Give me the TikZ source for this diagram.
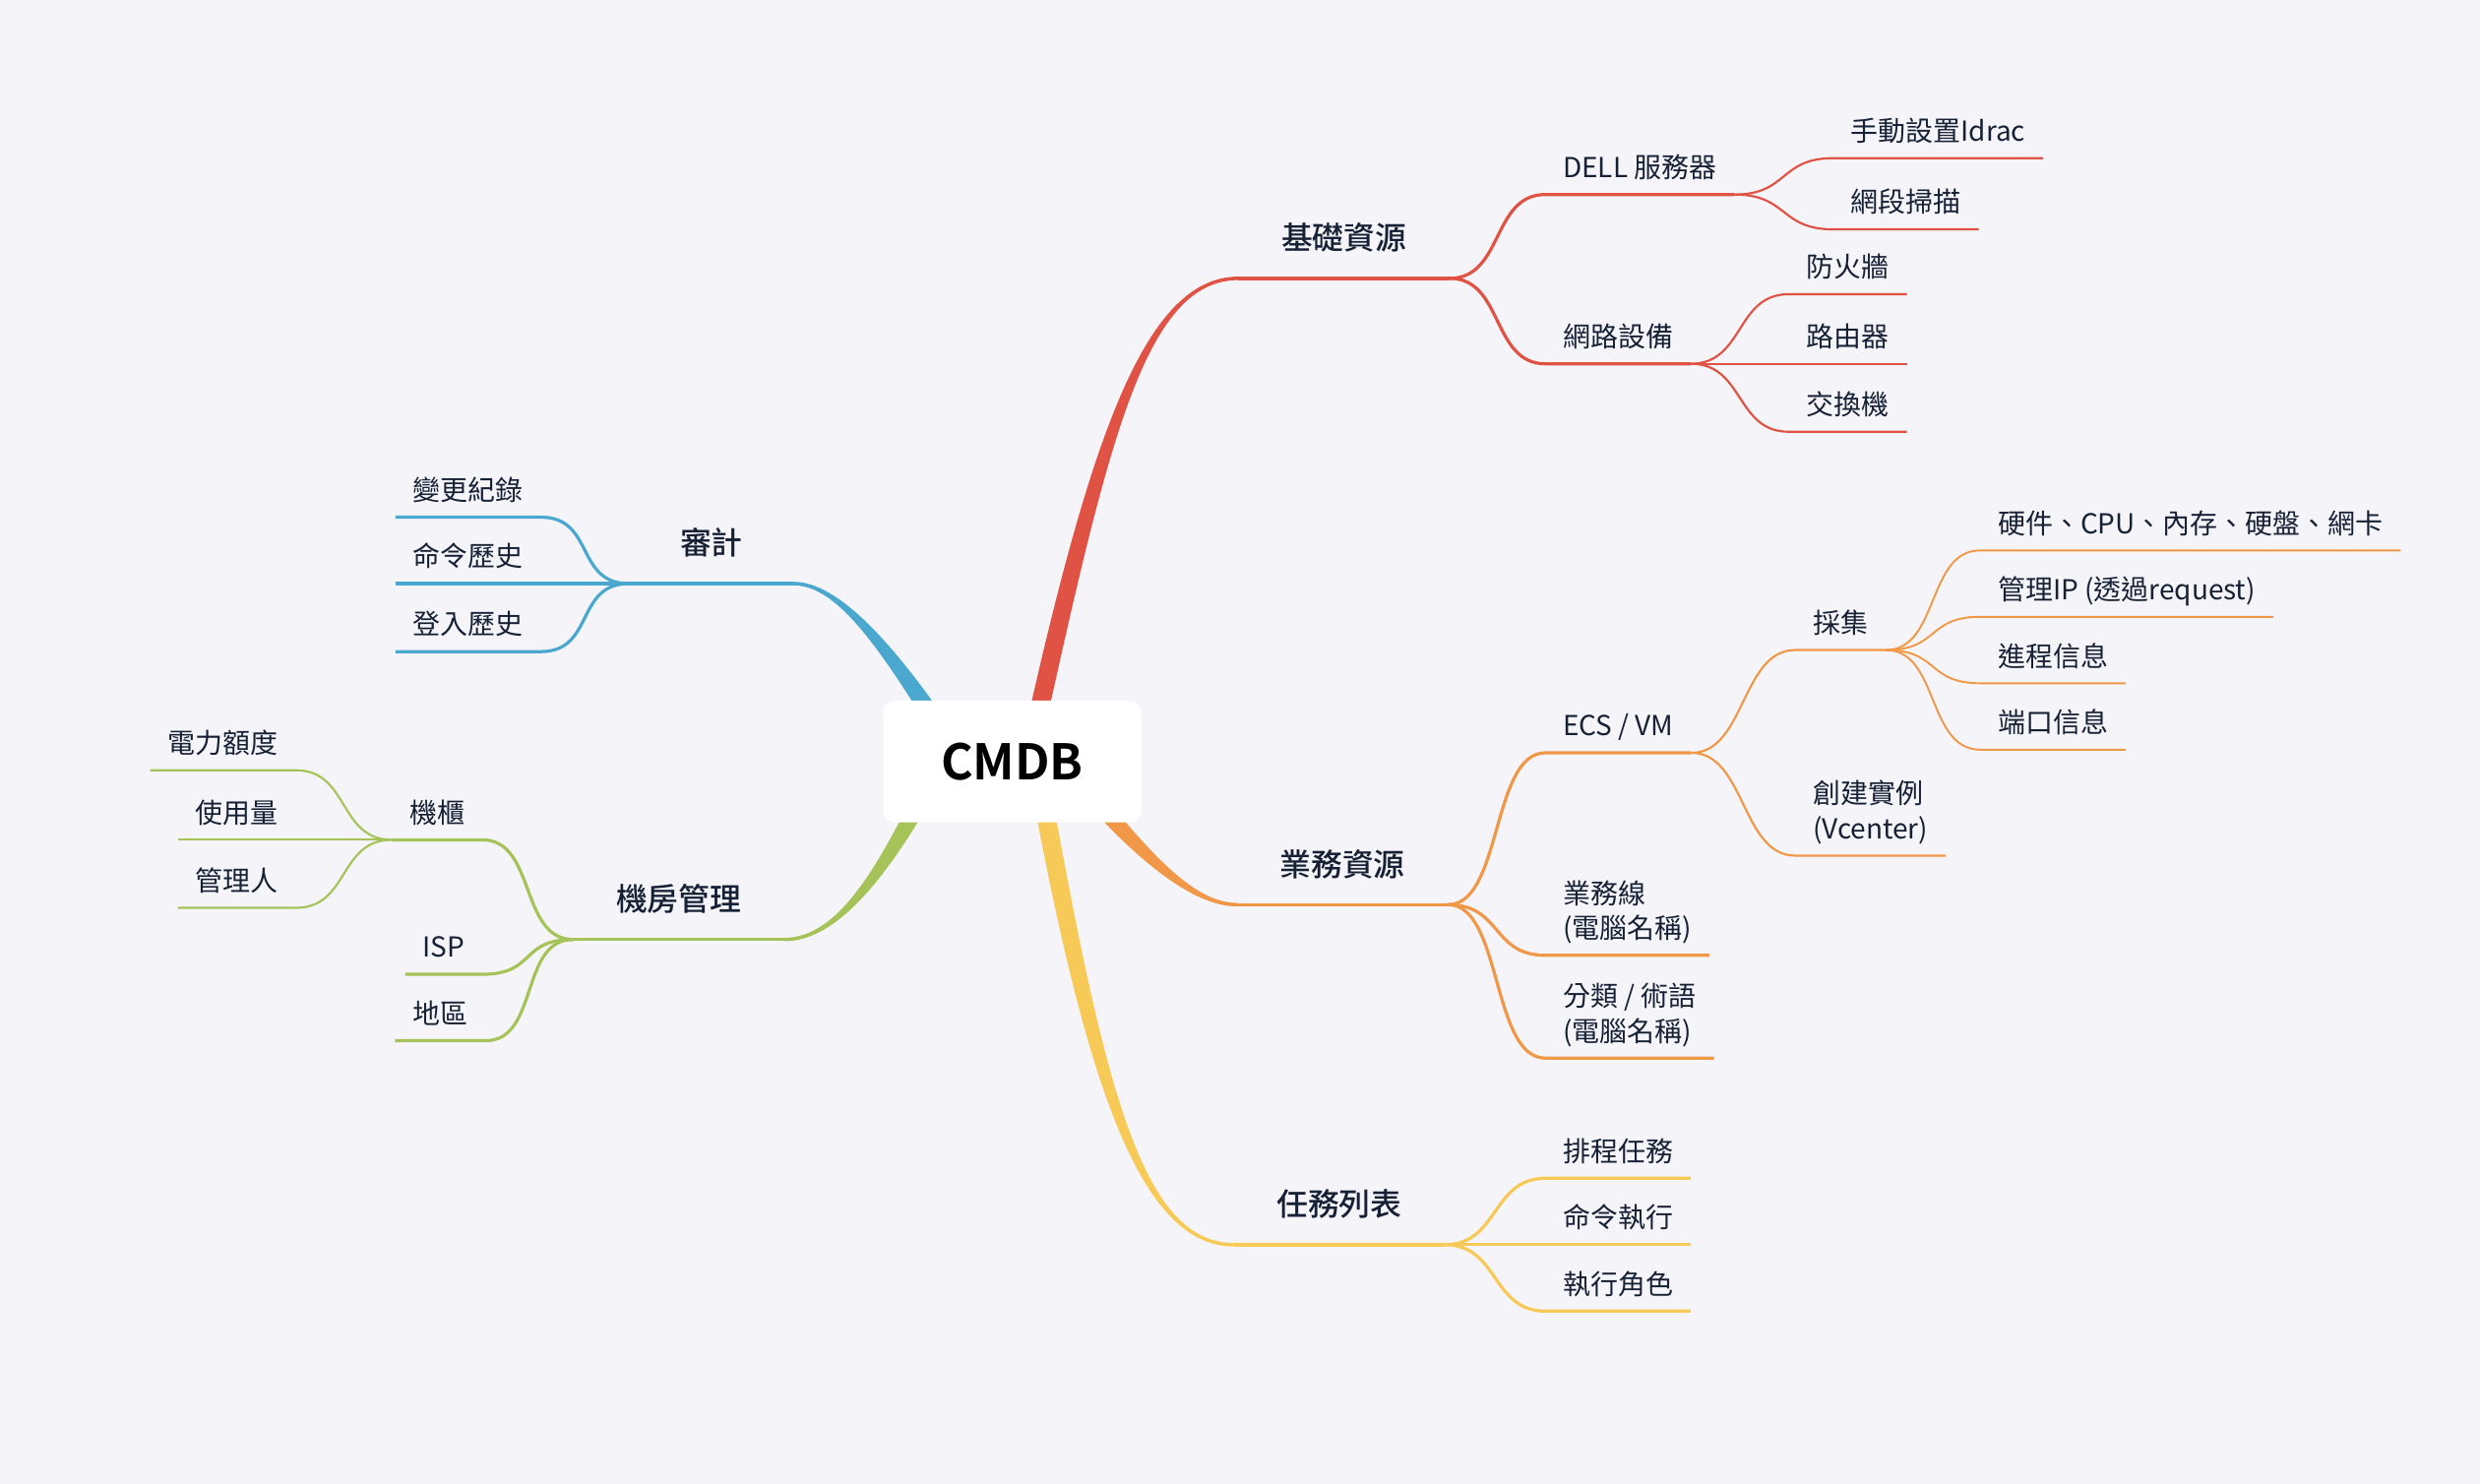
\documentclass[tikz,border=0pt]{standalone}
\usepackage{fontspec}
\setmainfont{Noto Sans CJK TC}[BoldFont={Noto Sans CJK TC Medium}]
\newfontfamily\rootfont{Noto Sans CJK TC Bold}
\usetikzlibrary{calc}

\definecolor{bg}{HTML}{F5F5F9}
\definecolor{ink}{HTML}{172135}
\definecolor{cRed}{HTML}{E05243}
\definecolor{cBlue}{HTML}{4AA8CE}
\definecolor{cGreen}{HTML}{A6C35A}
\definecolor{cOrange}{HTML}{F09848}
\definecolor{cYellow}{HTML}{F7C957}

% tapered main branch: colour, start, control 1, control 2, end
\newcommand{\trunk}[5]{%
  \fill[#1] ($(#2)!6pt!90:(#3)$) .. controls ($(#3)!6pt!-90:(#2)$) and ($(#4)!1.1pt!90:(#5)$) .. ($(#5)!1.1pt!-90:(#4)$)
    -- ($(#5)!1.1pt!90:(#4)$) .. controls ($(#4)!1.1pt!-90:(#5)$) and ($(#3)!6pt!90:(#2)$) .. ($(#2)!6pt!-90:(#3)$) -- cycle;}

\begin{document}
\begin{tikzpicture}[
  x=1pt, y=-1pt,
  topic/.style={font=\fontsize{17.4}{22}\selectfont, text=ink, inner xsep=11pt, inner ysep=6pt, text depth=4.5pt, align=left},
  rtopic/.style={topic, anchor=south west},
  ltopic/.style={topic, anchor=south east},
  maintopic/.style={font=\bfseries\fontsize{19.8}{24}\selectfont, text=ink, inner xsep=27pt, inner ysep=13.5pt, text depth=4.5pt, minimum width=104pt},
  root/.style={fill=white, rounded corners=7.5pt, minimum width=163pt, minimum height=77pt, font=\rootfont\fontsize{31}{38}\selectfont, text=black},
  lvl1/.style={line width=2.2pt},
  lvl2/.style={line width=2pt},
  lvl3/.style={line width=1.35pt},
  lvl4/.style={line width=1.2pt}
]

\useasboundingbox (0,0) rectangle (1568,938);
\fill[bg] (0,0) rectangle (1568,938);

% Main topics
\node[maintopic, anchor=south west] (infra) at (783,176) {基礎資源};
\node[maintopic, anchor=south west] (biz) at (782,572) {業務資源};
\node[maintopic, anchor=south west] (task) at (780,787) {任務列表};
\node[maintopic, anchor=south east] (audit) at (502,369) {審計};
\node[maintopic, anchor=south east] (room) at (496,594) {機房管理};

% Trunks from the centre
\coordinate (r0) at (650,481); \coordinate (r1) at (694,281); \coordinate (r2) at (723,176);
\coordinate (o0) at (672,481); \coordinate (o1) at (712,530); \coordinate (o2) at (750,572);
\coordinate (y0) at (655,481); \coordinate (y1) at (691,681); \coordinate (y2) at (720,787);
\coordinate (b0) at (608,481); \coordinate (b1) at (572,426); \coordinate (b2) at (535,369);
\coordinate (g0) at (596,481); \coordinate (g1) at (570,527); \coordinate (g2) at (538,594);
\trunk{cRed}{r0}{r1}{r2}{infra.south west}
\trunk{cOrange}{o0}{o1}{o2}{biz.south west}
\trunk{cYellow}{y0}{y1}{y2}{task.south west}
\trunk{cBlue}{b0}{b1}{b2}{audit.south east}
\trunk{cGreen}{g0}{g1}{g2}{room.south east}
\draw[lvl1, cRed] (infra.south west) -- (infra.south east);
\draw[lvl1, cOrange] (biz.south west) -- (biz.south east);
\draw[lvl1, cYellow] (task.south west) -- (task.south east);
\draw[lvl1, cBlue] (audit.south east) -- (audit.south west);
\draw[lvl1, cGreen] (room.south east) -- (room.south west);

% Infrastructure
\node[rtopic] (dell) at (977,123) {DELL 服務器};
\node[rtopic] (net) at (977,230) {網路設備};
\node[rtopic] (idrac) at (1159,100) {手動設置Idrac};
\node[rtopic] (scan) at (1159,145) {網段掃描};
\node[rtopic] (fw) at (1131,186) {防火牆};
\node[rtopic] (router) at (1131,230) {路由器};
\node[rtopic] (switch) at (1131,273) {交換機};

% Business
\node[rtopic] (ecs) at (977,476) {ECS / VM};
\node[rtopic] (bizline) at (977,604) {業務線\\(電腦名稱)};
\node[rtopic] (term) at (977,669) {分類 / 術語\\(電腦名稱)};
\node[rtopic] (collect) at (1135,411) {採集};
\node[rtopic] (vcenter) at (1135,541) {創建實例\\(Vcenter)};
\node[rtopic] (hw) at (1252,348) {硬件、CPU、內存、硬盤、網卡};
\node[rtopic] (mgmtip) at (1252,390) {管理IP (透過request)};
\node[rtopic] (proc) at (1252,432) {進程信息};
\node[rtopic] (port) at (1252,474) {端口信息};

% Tasks
\node[rtopic] (sched) at (977,745) {排程任務};
\node[rtopic] (cmdexec) at (977,787) {命令執行};
\node[rtopic] (role) at (977,829) {執行角色};

% Audit
\node[ltopic] (changelog) at (342,327) {變更紀錄};
\node[ltopic] (cmdhist) at (342,369) {命令歷史};
\node[ltopic] (login) at (342,412) {登入歷史};

% Machine room
\node[ltopic] (rack) at (305,531) {機櫃};
\node[ltopic] (isp) at (305,616) {ISP};
\node[ltopic] (region) at (307,658) {地區};
\node[ltopic] (power) at (187,487) {電力額度};
\node[ltopic] (usage) at (187,531) {使用量};
\node[ltopic] (owner) at (187,574) {管理人};

% Links, right side
\foreach \p/\c/\w/\col in {infra/dell/lvl2/cRed, infra/net/lvl2/cRed,
    dell/idrac/lvl3/cRed, dell/scan/lvl3/cRed, net/fw/lvl3/cRed, net/router/lvl3/cRed, net/switch/lvl3/cRed,
    biz/ecs/lvl2/cOrange, biz/bizline/lvl2/cOrange, biz/term/lvl2/cOrange,
    ecs/collect/lvl3/cOrange, ecs/vcenter/lvl3/cOrange,
    collect/hw/lvl4/cOrange, collect/mgmtip/lvl4/cOrange, collect/proc/lvl4/cOrange, collect/port/lvl4/cOrange,
    task/sched/lvl2/cYellow, task/cmdexec/lvl2/cYellow, task/role/lvl2/cYellow}
  \draw[\w, \col] (\p.south east) .. controls +(34,0) and +(-34,0) .. (\c.south west) -- (\c.south east);

% Links, left side
\foreach \p/\c/\w/\col in {audit/changelog/lvl2/cBlue, audit/cmdhist/lvl2/cBlue, audit/login/lvl2/cBlue,
    room/rack/lvl2/cGreen, room/isp/lvl2/cGreen, room/region/lvl2/cGreen,
    rack/power/lvl3/cGreen, rack/usage/lvl3/cGreen, rack/owner/lvl3/cGreen}
  \draw[\w, \col] (\p.south west) .. controls +(-34,0) and +(34,0) .. (\c.south east) -- (\c.south west);

% Central topic
\node[root] (cmdb) at (640,481.5) {CMDB};

\end{tikzpicture}
\end{document}
